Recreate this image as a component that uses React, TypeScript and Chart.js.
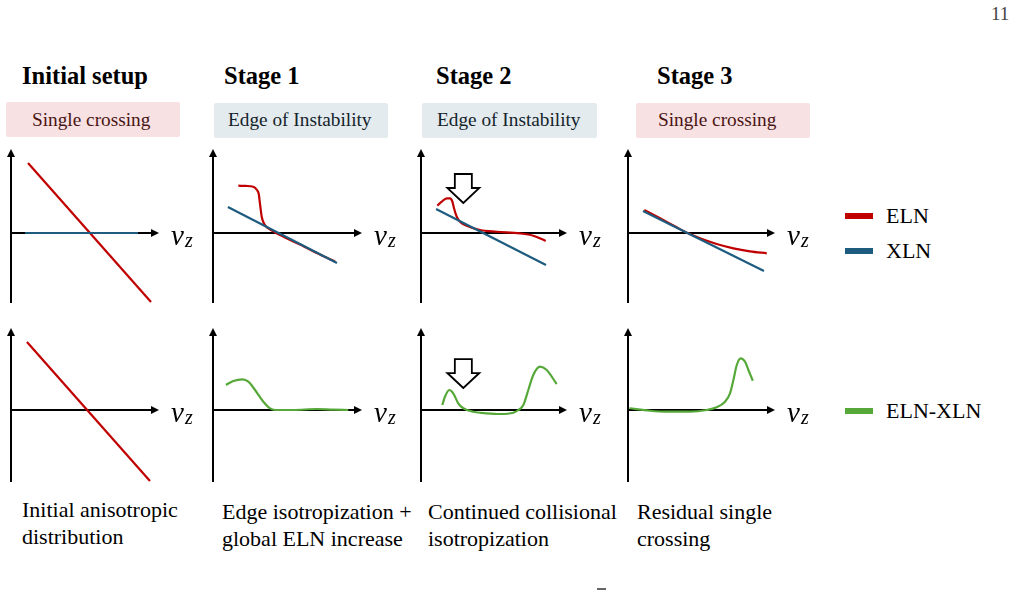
import React, { useEffect, useRef } from "react";
import { Chart, registerables } from "chart.js";
Chart.register(...registerables);

// ---------- data ----------
const STAGES = ["Initial setup", "Stage 1", "Stage 2", "Stage 3"];
const REGIMES = ["Single crossing", "Edge of Instability", "Edge of Instability", "Single crossing"];
const CAPTIONS = [
  ["Initial anisotropic", "distribution"],
  ["Edge isotropization +", "global ELN increase"],
  ["Continued collisional", "isotropization"],
  ["Residual single", "crossing"],
];
const LEGEND_LABELS = ["ELN", "XLN", "ELN-XLN"];

// top row: ELN / XLN angular distributions (x: v_z fraction along axis, y: relative value)
const SETUP_ELN_X = [0.115, 0.946];
const SETUP_ELN_Y = [0.833, -0.821];
const SETUP_XLN_X = [0.095, 0.858];
const SETUP_XLN_Y = [0, 0];

const STAGE1_ELN_X = [0.17, 0.221, 0.27, 0.295, 0.307, 0.315, 0.327, 0.339, 0.356, 0.383, 0.45, 0.584, 0.718, 0.819];
const STAGE1_ELN_Y = [0.563, 0.56, 0.551, 0.512, 0.464, 0.354, 0.194, 0.125, 0.077, 0.042, -0.024, -0.137, -0.256, -0.339];
const STAGE1_XLN_X = [0.1, 0.832];
const STAGE1_XLN_Y = [0.31, -0.357];

const STAGE2_ELN_X = [0.112, 0.142, 0.176, 0.199, 0.215, 0.226, 0.245, 0.267, 0.313, 0.404, 0.518, 0.678, 0.769, 0.854];
const STAGE2_ELN_Y = [0.325, 0.373, 0.413, 0.413, 0.373, 0.294, 0.194, 0.135, 0.087, 0.036, 0.015, -0.004, -0.032, -0.095];
const STAGE2_XLN_X = [0.103, 0.856];
const STAGE2_XLN_Y = [0.286, -0.381];

const STAGE3_ELN_X = [0.111, 0.218, 0.331, 0.41, 0.49, 0.603, 0.717, 0.83, 0.944];
const STAGE3_ELN_Y = [0.274, 0.175, 0.068, -0.004, -0.063, -0.131, -0.182, -0.218, -0.242];
const STAGE3_XLN_X = [0.102, 0.925];
const STAGE3_XLN_Y = [0.262, -0.452];

// bottom row: ELN - XLN
const SETUP_DIFF_X = [0.108, 0.939];
const SETUP_DIFF_Y = [0.829, -0.866];

const STAGE1_DIFF_X = [0.087, 0.136, 0.199, 0.237, 0.282, 0.338, 0.383, 0.416, 0.539, 0.696, 0.807, 0.908];
const STAGE1_DIFF_Y = [0.305, 0.354, 0.374, 0.345, 0.244, 0.101, 0.02, 0.0, 0.0, 0.012, 0.004, 0.0];

const STAGE2_DIFF_X = [0.146, 0.164, 0.194, 0.221, 0.255, 0.29, 0.358, 0.449, 0.541, 0.632, 0.667, 0.701, 0.735, 0.769, 0.815, 0.861, 0.929];
const STAGE2_DIFF_Y = [0.061, 0.162, 0.244, 0.204, 0.082, 0.021, -0.021, -0.04, -0.049, -0.033, 0.0, 0.061, 0.244, 0.427, 0.528, 0.488, 0.317];

const STAGE3_DIFF_X = [0.009, 0.15, 0.263, 0.422, 0.535, 0.603, 0.66, 0.694, 0.717, 0.74, 0.767, 0.796, 0.819, 0.849];
const STAGE3_DIFF_Y = [0.021, -0.009, -0.021, -0.021, 0.0, 0.033, 0.101, 0.203, 0.366, 0.549, 0.63, 0.589, 0.488, 0.357];

// hollow arrow markers (tip position in panel data units)
const STAGE2_TOP_ARROW = { x: 0.29, y: 0.357 };
const STAGE2_BOTTOM_ARROW = { x: 0.29, y: 0.268 };

// ---------- style ----------
const RED = "#c00000";
const BLUE = "#1d5c7e";
const GREEN = "#56a838";
const SERIF = '"Liberation Serif", "Times New Roman", serif';

const zip = (xs: number[], ys: number[]) => xs.map((x, i) => ({ x, y: ys[i] }));

type Curve = { xs: number[]; ys: number[]; color: string; smooth: boolean };
type PanelCfg = {
  axisX: number;
  tipTop: number;
  width: number;
  height: number;
  yMin: number;
  curves: Curve[];
  arrow?: { x: number; y: number };
};

const TOP_ROW_TIP = 149;
const BOTTOM_ROW_TIP = 328;
const COLS = [
  { x: 11, w: 148 },
  { x: 213, w: 149 },
  { x: 421, w: 146 },
  { x: 628, w: 147 },
];

const PANELS: PanelCfg[] = [
  { axisX: COLS[0].x, tipTop: TOP_ROW_TIP, width: COLS[0].w, height: 154, yMin: -0.833,
    curves: [
      { xs: SETUP_XLN_X, ys: SETUP_XLN_Y, color: BLUE, smooth: false },
      { xs: SETUP_ELN_X, ys: SETUP_ELN_Y, color: RED, smooth: false },
    ] },
  { axisX: COLS[1].x, tipTop: TOP_ROW_TIP, width: COLS[1].w, height: 154, yMin: -0.833,
    curves: [
      { xs: STAGE1_XLN_X, ys: STAGE1_XLN_Y, color: BLUE, smooth: false },
      { xs: STAGE1_ELN_X, ys: STAGE1_ELN_Y, color: RED, smooth: true },
    ] },
  { axisX: COLS[2].x, tipTop: TOP_ROW_TIP, width: COLS[2].w, height: 154, yMin: -0.833,
    curves: [
      { xs: STAGE2_XLN_X, ys: STAGE2_XLN_Y, color: BLUE, smooth: false },
      { xs: STAGE2_ELN_X, ys: STAGE2_ELN_Y, color: RED, smooth: true },
    ], arrow: STAGE2_TOP_ARROW },
  { axisX: COLS[3].x, tipTop: TOP_ROW_TIP, width: COLS[3].w, height: 154, yMin: -0.833,
    curves: [
      { xs: STAGE3_XLN_X, ys: STAGE3_XLN_Y, color: BLUE, smooth: false },
      { xs: STAGE3_ELN_X, ys: STAGE3_ELN_Y, color: RED, smooth: true },
    ] },
  { axisX: COLS[0].x, tipTop: BOTTOM_ROW_TIP, width: COLS[0].w, height: 154, yMin: -0.878,
    curves: [{ xs: SETUP_DIFF_X, ys: SETUP_DIFF_Y, color: RED, smooth: false }] },
  { axisX: COLS[1].x, tipTop: BOTTOM_ROW_TIP, width: COLS[1].w, height: 154, yMin: -0.878,
    curves: [{ xs: STAGE1_DIFF_X, ys: STAGE1_DIFF_Y, color: GREEN, smooth: true }] },
  { axisX: COLS[2].x, tipTop: BOTTOM_ROW_TIP, width: COLS[2].w, height: 154, yMin: -0.878,
    curves: [{ xs: STAGE2_DIFF_X, ys: STAGE2_DIFF_Y, color: GREEN, smooth: true }], arrow: STAGE2_BOTTOM_ARROW },
  { axisX: COLS[3].x, tipTop: BOTTOM_ROW_TIP, width: COLS[3].w, height: 154, yMin: -0.878,
    curves: [{ xs: STAGE3_DIFF_X, ys: STAGE3_DIFF_Y, color: GREEN, smooth: true }] },
];

const PAD_L = 8;
const PAD_T = 6;
const CANVAS_W = 200;

const axesPlugin = {
  id: "axesPlugin",
  beforeDatasetsDraw(chart: any) {
    const { ctx, chartArea } = chart;
    const { left, right, top, bottom } = chartArea;
    const y0 = chart.scales.y.getPixelForValue(0);
    ctx.save();
    ctx.strokeStyle = "#000";
    ctx.fillStyle = "#000";
    ctx.lineWidth = 2;
    ctx.beginPath();
    ctx.moveTo(left, bottom);
    ctx.lineTo(left, top + 6);
    ctx.stroke();
    ctx.beginPath();
    ctx.moveTo(left, top);
    ctx.lineTo(left - 4, top + 8);
    ctx.lineTo(left + 4, top + 8);
    ctx.closePath();
    ctx.fill();
    ctx.beginPath();
    ctx.moveTo(left, y0);
    ctx.lineTo(right - 6, y0);
    ctx.stroke();
    ctx.beginPath();
    ctx.moveTo(right, y0);
    ctx.lineTo(right - 8, y0 - 4);
    ctx.lineTo(right - 8, y0 + 4);
    ctx.closePath();
    ctx.fill();
    ctx.restore();
  },
  afterDatasetsDraw(chart: any, _args: any, opts: any) {
    const { ctx, chartArea } = chart;
    const { right } = chartArea;
    const y0 = chart.scales.y.getPixelForValue(0);
    ctx.save();
    ctx.fillStyle = "#000";
    ctx.textBaseline = "alphabetic";
    ctx.font = 'italic 29px "Liberation Serif"';
    ctx.fillText("v", right + 12, y0 + 12);
    ctx.font = 'italic 20px "Liberation Serif"';
    ctx.fillText("z", right + 26, y0 + 14);
    const a = opts && opts.arrow;
    if (a) {
      const px = chart.scales.x.getPixelForValue(a.x);
      const py = chart.scales.y.getPixelForValue(a.y);
      ctx.beginPath();
      ctx.moveTo(px, py);
      ctx.lineTo(px - 16, py - 15);
      ctx.lineTo(px - 8.5, py - 15);
      ctx.lineTo(px - 8.5, py - 29);
      ctx.lineTo(px + 8.5, py - 29);
      ctx.lineTo(px + 8.5, py - 15);
      ctx.lineTo(px + 16, py - 15);
      ctx.closePath();
      ctx.fillStyle = "#fff";
      ctx.fill();
      ctx.lineWidth = 1.8;
      ctx.strokeStyle = "#000";
      ctx.lineJoin = "miter";
      ctx.stroke();
    }
    ctx.restore();
  },
};

function Panel({ cfg }: { cfg: PanelCfg }) {
  const ref = useRef<HTMLCanvasElement>(null);
  const canvasH = cfg.height + PAD_T * 2;
  useEffect(() => {
    if (!ref.current) return;
    const chart = new Chart(ref.current, {
      type: "line",
      data: {
        datasets: cfg.curves.map((c) => ({
          data: zip(c.xs, c.ys),
          borderColor: c.color,
          borderWidth: 2.2,
          pointRadius: 0,
          fill: false,
          clip: false as any,
          tension: c.smooth ? 0.4 : 0,
          cubicInterpolationMode: c.smooth ? ("monotone" as const) : ("default" as const),
          borderCapStyle: "butt" as const,
        })),
      },
      options: {
        responsive: false,
        animation: false,
        devicePixelRatio: 1,
        layout: {
          padding: { left: PAD_L, top: PAD_T, bottom: PAD_T, right: CANVAS_W - PAD_L - cfg.width },
        },
        scales: {
          x: { type: "linear", min: 0, max: 1, display: false },
          y: { type: "linear", min: cfg.yMin, max: 1, display: false },
        },
        plugins: {
          legend: { display: false },
          tooltip: { enabled: false },
          axesPlugin: { arrow: cfg.arrow },
        } as any,
        events: [],
      },
      plugins: [axesPlugin],
    });
    return () => chart.destroy();
  }, []);
  return (
    <canvas
      ref={ref}
      width={CANVAS_W}
      height={canvasH}
      style={{
        position: "absolute",
        left: cfg.axisX - PAD_L,
        top: cfg.tipTop - PAD_T,
        width: CANVAS_W,
        height: canvasH,
      }}
    />
  );
}

function Txt({ x, base, size, children, bold, color }: any) {
  return (
    <div
      style={{
        position: "absolute",
        left: x,
        top: base - 0.8375 * size,
        fontFamily: SERIF,
        fontSize: size,
        lineHeight: `${size}px`,
        fontWeight: bold ? 700 : 400,
        color: color || "#000",
        whiteSpace: "nowrap",
      }}
    >
      {children}
    </div>
  );
}

const TITLE_X = [22, 224, 436, 657];
const BOX_X = [6, 214, 422, 636];
const BOX_W = [174, 174, 175, 174];
const BOX_TEXT_X = [32, 228, 437, 658];
const CAPTION_X = [22, 222, 428, 637];
const PINK_BG = "#f7e1e2";
const BLUE_BG = "#e3ebee";
const LEGEND_ROWS = [
  { color: RED, y: 216 },
  { color: BLUE, y: 251 },
  { color: GREEN, y: 411 },
];

export default function App() {
  return (
    <div
      style={{
        position: "absolute",
        left: 0,
        top: 0,
        width: 1016,
        height: 591,
        background: "#fff",
        overflow: "hidden",
      }}
    >
      <Txt x={991} base={20} size={19} color="#444">11</Txt>
      {STAGES.map((s, i) => (
        <Txt key={s + i} x={TITLE_X[i]} base={85} size={24.5} bold>
          {s}
        </Txt>
      ))}
      {REGIMES.map((r, i) => {
        const pink = r === "Single crossing";
        return (
          <React.Fragment key={"b" + i}>
            <div
              style={{
                position: "absolute",
                left: BOX_X[i],
                top: i === 0 ? 102 : 103,
                width: BOX_W[i],
                height: 35,
                background: pink ? PINK_BG : BLUE_BG,
                borderRadius: 2,
              }}
            />
            <Txt x={BOX_TEXT_X[i]} base={126} size={19.3} color={pink ? "#4a1414" : "#15232b"}>
              {r}
            </Txt>
          </React.Fragment>
        );
      })}
      {PANELS.map((p, i) => (
        <Panel key={i} cfg={p} />
      ))}
      {CAPTIONS.map((lines, i) =>
        lines.map((l, j) => (
          <Txt key={"c" + i + j} x={CAPTION_X[i]} base={(i === 0 ? 517 : 519) + j * 27} size={22}>
            {l}
          </Txt>
        ))
      )}
      {LEGEND_ROWS.map((row, i) => (
        <React.Fragment key={"l" + i}>
          <div
            style={{
              position: "absolute",
              left: 845,
              top: row.y - 3,
              width: 28,
              height: 6,
              background: row.color,
            }}
          />
          <Txt x={886} base={row.y + 7} size={22}>
            {LEGEND_LABELS[i]}
          </Txt>
        </React.Fragment>
      ))}
      <div style={{ position: "absolute", left: 597, top: 588, width: 9, height: 2, background: "#666" }} />
    </div>
  );
}
